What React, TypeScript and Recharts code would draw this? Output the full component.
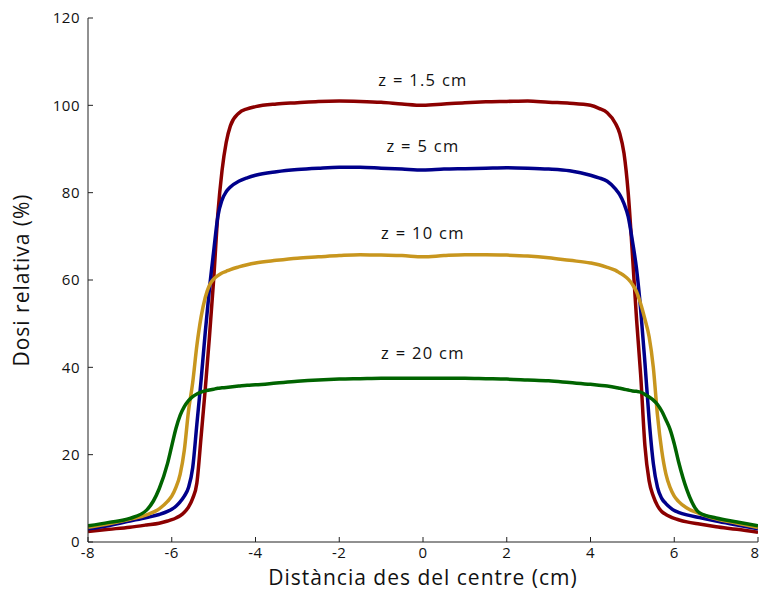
import { LineChart, Line, XAxis, YAxis, ReferenceDot } from 'recharts'

// distance from the beam centre (cm)
const xs = [
  -8, -7.5, -7, -6.6, -6.3, -6.1, -6.0, -5.9, -5.8, -5.7, -5.6, -5.5, -5.4, -5.3, -5.2, -5.1, -5.0, -4.9, -4.8, -4.7,
  -4.6, -4.4, -4.2, -4, -3.5, -3, -2.5, -2, -1.5, -1, -0.5, 0, 0.5, 1, 1.5, 2, 2.5, 3, 3.5, 4, 4.2, 4.4, 4.6, 4.7,
  4.8, 4.9, 5.0, 5.1, 5.2, 5.3, 5.4, 5.5, 5.6, 5.7, 5.8, 5.9, 6.0, 6.1, 6.3, 6.6, 7, 7.5, 8,
]

const z15 = [
  2.4, 2.9, 3.4, 3.9, 4.3, 4.8, 5.1, 5.5, 6.0, 6.8, 8.0, 10.0, 13.5, 24, 35, 47, 60, 75, 85, 91.5,
  95.3, 98.2, 99.2, 99.7, 100.3, 100.6, 100.9, 101.0, 100.9, 100.7, 100.3, 100.0, 100.3, 100.6, 100.8, 100.9, 101.0, 100.7, 100.5, 100.0, 99.3, 98.3, 95.8, 93.5,
  89, 80, 66, 51, 38, 22, 14, 10.5, 8.3, 7.0, 6.3, 5.8, 5.4, 5.1, 4.6, 4.1, 3.5, 2.9, 2.2,
]

const z5 = [
  3.0, 3.8, 4.8, 5.6, 6.3, 7.0, 7.5, 8.2, 9.2, 10.5, 12.5, 17, 27, 37, 48, 58, 66.5, 74.5, 78.3, 80.2,
  81.3, 82.6, 83.4, 84.0, 84.8, 85.3, 85.6, 85.8, 85.8, 85.6, 85.4, 85.2, 85.4, 85.5, 85.6, 85.7, 85.6, 85.4, 85.0, 84.0, 83.4, 82.6, 80.8, 79.5,
  77.5, 74.5, 69, 62.5, 53, 41, 28, 18, 12.5, 10.0, 8.8, 7.9, 7.2, 6.8, 6.2, 5.6, 4.8, 3.9, 3.0,
]

const z10 = [
  3.4, 4.2, 5.2, 6.2, 7.6, 9.3, 10.5, 12.5, 15.5, 21, 30, 36.5, 45, 51.5, 56, 58.8, 60.2, 61, 61.6, 62.0,
  62.4, 63.0, 63.5, 63.9, 64.5, 65.0, 65.3, 65.6, 65.8, 65.7, 65.6, 65.3, 65.6, 65.8, 65.8, 65.7, 65.5, 65.1, 64.5, 63.9, 63.5, 62.9, 62.2, 61.6,
  61.0, 60.2, 59, 57.3, 54.5, 51, 47, 40, 29, 21, 15.6, 12.5, 10.5, 9.3, 7.8, 6.5, 5.3, 4.3, 3.3,
]

const z20 = [
  3.7, 4.5, 5.4, 7.3, 12.2, 18, 22, 26, 29, 31, 32.4, 33.3, 33.9, 34.3, 34.6, 34.8, 35.0, 35.2, 35.3, 35.4,
  35.5, 35.7, 35.9, 36.0, 36.4, 36.8, 37.1, 37.3, 37.4, 37.5, 37.5, 37.5, 37.5, 37.5, 37.4, 37.3, 37.1, 36.9, 36.5, 36.1, 35.9, 35.7, 35.4, 35.2,
  35.0, 34.8, 34.6, 34.5, 34.3, 33.8, 33.2, 32.5, 31.5, 30, 28, 25.8, 22.5, 18.5, 12, 6.7, 5.5, 4.6, 3.7,
]

const xTicks = [-8, -6, -4, -2, 0, 2, 4, 6, 8]
const yTicks = [0, 20, 40, 60, 80, 100, 120]

const depthLabels = [
  { text: 'z = 1.5 cm', y: 105.8 },
  { text: 'z = 5 cm', y: 90.7 },
  { text: 'z = 10 cm', y: 70.8 },
  { text: 'z = 20 cm', y: 43.3 },
]

const rows = xs.map((x, i) => ({ x, z15: z15[i], z5: z5[i], z10: z10[i], z20: z20[i] }))

const font = '"Open Sans", "Noto Sans", sans-serif'
const frame = '#222'
const tickStyle = { fill: '#111', fontSize: 15, fontFamily: font, letterSpacing: 0.5 }

export default function App() {
  return (
    <div style={{ position: 'absolute', left: 0, top: 0, background: '#fff' }}>
      <LineChart width={759} height={594} data={rows} margin={{ top: 18, right: 1, bottom: 0, left: 0 }}>
        <XAxis
          dataKey="x"
          type="number"
          domain={[-8, 8]}
          ticks={xTicks}
          allowDataOverflow
          height={52}
          stroke={frame}
          tickSize={-5}
          tickMargin={10}
          tick={tickStyle}
          label={{
            value: 'Distància des del centre (cm)',
            position: 'insideBottom',
            offset: 9,
            fontSize: 21,
            fontFamily: font,
            fill: '#111',
            style: { letterSpacing: '1px' },
          }}
        />
        <XAxis
          xAxisId="top"
          dataKey="x"
          type="number"
          orientation="top"
          domain={[-8, 8]}
          ticks={xTicks}
          allowDataOverflow
          height={0}
          stroke={frame}
          tickSize={-5}
          tick={false}
        />
        <YAxis
          type="number"
          domain={[0, 120]}
          ticks={yTicks}
          allowDataOverflow
          width={88}
          stroke={frame}
          tickSize={-5}
          tickMargin={13}
          tick={tickStyle}
          label={{
            value: 'Dosi relativa (%)',
            angle: -90,
            position: 'insideLeft',
            offset: 22,
            fontSize: 21,
            fontFamily: font,
            fill: '#111',
            style: { textAnchor: 'middle', letterSpacing: '1px' },
          }}
        />
        <YAxis
          yAxisId="right"
          type="number"
          orientation="right"
          domain={[0, 120]}
          ticks={yTicks}
          allowDataOverflow
          width={0}
          stroke={frame}
          tickSize={-5}
          tick={false}
        />
        <Line type="monotone" dataKey="z15" stroke="#8b0000" strokeWidth={3.5} dot={false} isAnimationActive={false} />
        <Line type="monotone" dataKey="z5" stroke="#00008b" strokeWidth={3.5} dot={false} isAnimationActive={false} />
        <Line type="monotone" dataKey="z10" stroke="#c8961e" strokeWidth={3.5} dot={false} isAnimationActive={false} />
        <Line type="monotone" dataKey="z20" stroke="#006400" strokeWidth={3.5} dot={false} isAnimationActive={false} />
        {depthLabels.map((d) => (
          <ReferenceDot
            key={d.text}
            x={0}
            y={d.y}
            r={0}
            fill="none"
            stroke="none"
            label={{
              value: d.text,
              position: 'center',
              fontSize: 16.5,
              fontFamily: font,
              fill: '#111',
              style: { letterSpacing: '1.3px' },
            }}
          />
        ))}
      </LineChart>
    </div>
  )
}
